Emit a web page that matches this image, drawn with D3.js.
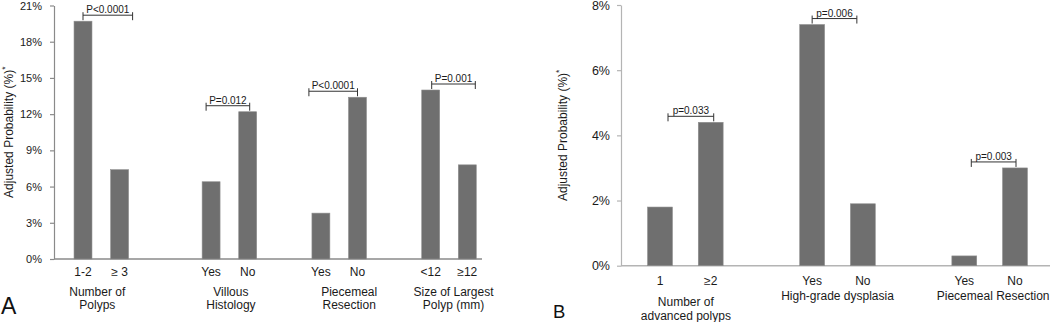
<!DOCTYPE html>
<html>
<head>
<meta charset="utf-8">
<script src="https://cdn.jsdelivr.net/npm/d3@7"></script>
<style>
  html, body { margin: 0; padding: 0; background: #fff; }
  svg { display: block; font-family: "Liberation Sans", Arial, sans-serif; }
</style>
</head>
<body>
<svg id="chart" width="1050" height="322"></svg>
<script>
// ---------------- DATA ----------------
// Panel A
const categoriesA = ["1-2", "\u2265 3", "Yes", "No", "Yes", "No", "<12", "\u226512"];
const groupsA = [["Number of", "Polyps"], ["Villous", "Histology"], ["Piecemeal", "Resection"], ["Size of Largest", "Polyp (mm)"]];
const valuesA = [19.7, 7.4, 6.4, 12.2, 3.8, 13.4, 14.0, 7.8];
const pLabelsA = ["P<0.0001", "P=0.012", "P<0.0001", "P=0.001"];
const yTicksA = [0, 3, 6, 9, 12, 15, 18, 21];

// Panel B
const categoriesB = ["1", "\u22652", "Yes", "No", "Yes", "No"];
const groupsB = [["Number of", "advanced polyps"], ["High-grade dysplasia"], ["Piecemeal Resection"]];
const valuesB = [1.8, 4.4, 7.4, 1.9, 0.3, 3.0];
const pLabelsB = ["p=0.033", "p=0.006", "p=0.003"];
const yTicksB = [0, 2, 4, 6, 8];

const yTitle = "Adjusted Probability (%)";

// ---------------- LAYOUT ----------------
const layoutA = {
  letter: "A", letterX: 1, letterY: 314, letterSize: 23,
  axisX: 54, y0: 259, yTop: 5.5, yMax: 21, baseEnd: 482,
  slots: [0, 1, 3.5, 4.5, 6.5, 7.5, 9.5, 10.5], firstX: 83, lastX: 467.3,
  tickSize: 11, tickPad: 8, axisColor: "#8a8a8a",
  catY: 276, groupY: 295.5, lineH: 13.5,
  groupDx: [-4, 1.5, 10, 4.5],
  bracketDx: [[0, 13], [-5, 2], [-12, 0], [1, 8]],
  titleX: 9, titleSize: 12
};
const layoutB = {
  letter: "B", letterX: 553, letterY: 318, letterSize: 18.5,
  axisX: 621, y0: 265.7, yTop: 5, yMax: 8, baseEnd: 1050,
  slots: [0, 1, 3, 4, 6, 7], firstX: 660, lastX: 1015,
  tickSize: 12.5, tickPad: 7, axisColor: "#b4b4b4",
  catY: 285, groupY: 306, lineH: 13.5,
  groupYs: [306, 299.5, 299.5],
  groupDx: [0.5, 0, 3.5],
  bracketDx: [[8, 3], [0, -6], [7, 1]],
  titleX: 563, titleSize: 12
};

const svg = d3.select("#chart");
svg.append("rect").attr("width", 1050).attr("height", 322).attr("fill", "#fff");

function drawPanel(L, cats, groups, vals, pLabels, ticks) {
  const g = svg.append("g");
  const y = d3.scaleLinear().domain([0, L.yMax]).range([L.y0, L.yTop]);
  const x = d3.scaleLinear().domain([L.slots[0], L.slots[L.slots.length - 1]]).range([L.firstX, L.lastX]);
  const slotW = x(1) - x(0);
  const bw = slotW * 0.49;

  // y axis
  const yAxis = d3.axisLeft(y).tickValues(ticks).tickFormat(d => d + "%")
    .tickSizeInner(4).tickSizeOuter(0).tickPadding(L.tickPad);
  const ya = g.append("g").attr("transform", `translate(${L.axisX},0)`).call(yAxis);
  ya.select(".domain").attr("stroke", L.axisColor).attr("stroke-width", 1.2);
  ya.selectAll(".tick line").attr("stroke", L.axisColor).attr("stroke-width", 1.2);
  ya.selectAll(".tick text").attr("fill", "#1a1a1a").attr("font-size", L.tickSize)
    .attr("font-family", "Liberation Sans, Arial, sans-serif");

  // x baseline
  g.append("line").attr("x1", L.axisX).attr("x2", L.baseEnd)
    .attr("y1", y(0)).attr("y2", y(0))
    .attr("stroke", L.axisColor).attr("stroke-width", 1.5);

  // bars
  g.selectAll("rect.bar").data(vals).join("rect").attr("class", "bar")
    .attr("x", (d, i) => x(L.slots[i]) - bw / 2)
    .attr("y", d => y(d))
    .attr("width", bw)
    .attr("height", d => y(0) - y(d))
    .attr("fill", "#6f6f6f")
    .attr("stroke", "#8e8e8e").attr("stroke-width", 0.6);

  // category labels
  g.selectAll("text.cat").data(cats).join("text").attr("class", "cat")
    .attr("x", (d, i) => x(L.slots[i]))
    .attr("y", L.catY)
    .attr("text-anchor", "middle")
    .attr("font-size", 12).attr("fill", "#1a1a1a")
    .text(d => d);

  // group labels
  groups.forEach((lines, k) => {
    const cx = (x(L.slots[2 * k]) + x(L.slots[2 * k + 1])) / 2 + L.groupDx[k];
    const gy = L.groupYs ? L.groupYs[k] : L.groupY;
    const t = g.append("text").attr("text-anchor", "middle")
      .attr("font-size", 12).attr("fill", "#1a1a1a");
    lines.forEach((ln, j) => {
      t.append("tspan").attr("x", cx).attr("y", gy + j * L.lineH).text(ln);
    });
  });

  // p-value brackets
  pLabels.forEach((p, k) => {
    const i1 = 2 * k, i2 = 2 * k + 1;
    const yl = Math.min(y(vals[i1]), y(vals[i2])) - 6;
    const x1 = x(L.slots[i1]) + L.bracketDx[k][0];
    const x2 = x(L.slots[i2]) + L.bracketDx[k][1];
    g.append("path")
      .attr("d", `M${x1},${yl}H${x2}M${x1},${yl - 3}V${yl + 5}M${x2},${yl - 3}V${yl + 5}`)
      .attr("fill", "none").attr("stroke", "#333").attr("stroke-width", 1);
    g.append("text").attr("x", (x1 + x2) / 2).attr("y", yl - 2)
      .attr("text-anchor", "middle").attr("font-size", 10).attr("fill", "#1a1a1a")
      .text(p);
  });

  // y title
  const ty = (L.y0 + L.yTop) / 2;
  const tt = g.append("text")
    .attr("transform", `translate(${L.titleX},${ty}) rotate(-90)`)
    .attr("text-anchor", "middle").attr("dominant-baseline", "central")
    .attr("font-size", L.titleSize).attr("fill", "#1a1a1a");
  tt.append("tspan").text(yTitle);
  tt.append("tspan").attr("font-size", L.titleSize * 0.7).attr("dy", -4).text("*");

  // panel letter
  g.append("text").attr("x", L.letterX).attr("y", L.letterY)
    .attr("font-size", L.letterSize).attr("fill", "#111").text(L.letter);
}

drawPanel(layoutA, categoriesA, groupsA, valuesA, pLabelsA, yTicksA);
drawPanel(layoutB, categoriesB, groupsB, valuesB, pLabelsB, yTicksB);
</script>
</body>
</html>
